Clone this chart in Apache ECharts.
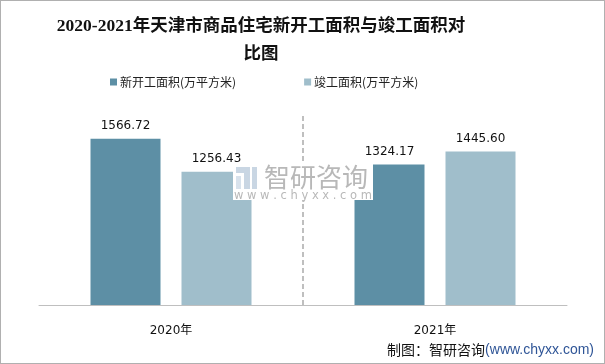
<!DOCTYPE html>
<html><head><meta charset="utf-8">
<script src="https://cdn.jsdelivr.net/npm/echarts@6/dist/echarts.min.js"></script>
<style>html,body{margin:0;padding:0;background:#fff}#c{width:605px;height:364px;box-sizing:border-box;border:1px solid #b0b0b0}</style>
</head><body><div id="c"></div>
<script>
const categories = ['2020年', '2021年'];
const seriesNames = ['新开工面积(万平方米)', '竣工面积(万平方米)'];
const newStart = [1566.72, 1324.17];
const completed = [1256.43, 1445.60];

const chart = echarts.init(document.getElementById('c'), null, {renderer: 'canvas'});
const sans = 'Tahoma, "DejaVu Sans", "Noto Sans CJK SC", sans-serif';
chart.setOption({
  animation: false,
  backgroundColor: '#fff',
  title: {
    text: '2020-2021年天津市商品住宅新开工面积与竣工面积对\n比图',
    left: 255, top: 6, textAlign: 'center',
    textStyle: {fontFamily: '"Liberation Serif", "Noto Sans CJK SC", serif', fontWeight: 'bold', fontSize: 17.5, lineHeight: 28, color: '#111'}
  },
  legend: {
    left: 104, top: 70, itemWidth: 7, itemHeight: 7, itemGap: 68, icon: 'rect',
    textStyle: {fontFamily: '"Noto Sans CJK SC", sans-serif', fontSize: 12, color: '#222', padding: [0,0,0,-2]},
    data: seriesNames
  },
  grid: {left: 38, right: 37, top: 113, bottom: 58},
  xAxis: [{
    type: 'category', data: categories,
    axisLine: {lineStyle: {color: '#bfbfbf', width: 1}},
    axisTick: {show: false},
    axisLabel: {margin: 20, fontSize: 12, color: '#111', fontFamily: sans},
    splitLine: {show: false}
  }, {
    type: 'value', min: 0, max: 2, show: false, splitLine: {show: false}
  }],
  yAxis: {type: 'value', min: 0, max: 1800, show: false, splitLine: {show: false}},
  series: [
    {name: seriesNames[0], type: 'bar', data: newStart, barWidth: 70, barGap: '30%', itemStyle: {color: '#5d8fa5'},
     label: {show: true, position: 'top', distance: 7, fontSize: 12, color: '#111', fontFamily: sans, formatter: p => p.value.toFixed(2)}},
    {name: seriesNames[1], type: 'bar', data: completed, barWidth: 70, itemStyle: {color: '#a0becb'},
     label: {show: true, position: 'top', distance: 7, fontSize: 12, color: '#111', fontFamily: sans, formatter: p => p.value.toFixed(2)}},
    {type: 'line', xAxisIndex: 1, data: [], silent: true,
     markLine: {silent: true, symbol: 'none', label: {show: false},
       lineStyle: {color: '#bfbfbf', width: 2, type: [5, 3]},
       data: [{xAxis: 1}]}}
  ],
  graphic: [
    {type: 'rect', left: 232, top: 163, z: 100, shape: {width: 140, height: 36}, style: {fill: '#fff'}},
    {type: 'rect', left: 235, top: 166, z: 101, shape: {width: 14, height: 6}, style: {fill: '#c9d6e3'}},
    {type: 'rect', left: 243, top: 166, z: 101, shape: {width: 6, height: 22}, style: {fill: '#c9d6e3'}},
    {type: 'rect', left: 235, top: 175, z: 101, shape: {width: 5, height: 13}, style: {fill: '#d8e2ec'}},
    {type: 'rect', left: 251, top: 166, z: 101, shape: {width: 5, height: 22}, style: {fill: '#c9d6e3'}},
    {type: 'text', left: 263, top: 163, z: 101, style: {text: '智研咨询', font: '26px "Noto Sans CJK SC", sans-serif', fill: '#b8b8b8'}},
    {type: 'text', left: 233, top: 189, z: 101, style: {text: 'w w w . c h y x x . c o m', font: '11.5px "DejaVu Sans", sans-serif', fill: '#b8b8b8'}},
    {type: 'text', right: 10, top: 342, z: 101, style: {
      text: '{a|制图：智研咨询}{b|(www.chyxx.com)}',
      rich: {a: {fontSize: 14, fontFamily: '"Noto Sans CJK SC", sans-serif', fill: '#111', color: '#111'},
             b: {fontSize: 14, fontFamily: '"Liberation Sans", Arial, sans-serif', fill: '#2f5597', color: '#2f5597'}}
    }}
  ]
});
</script></body></html>
